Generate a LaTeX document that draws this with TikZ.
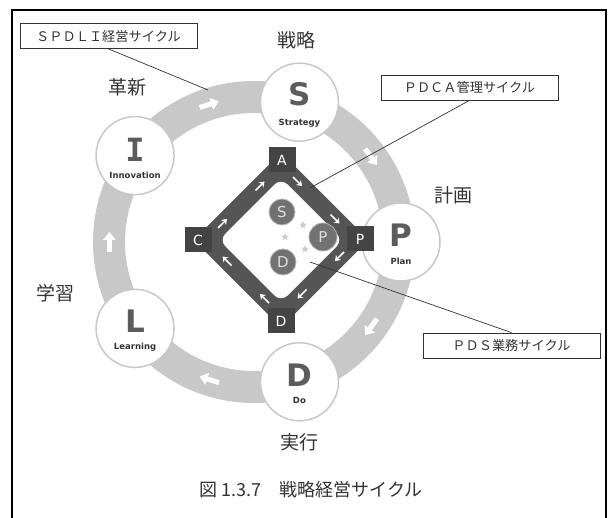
\documentclass[tikz,border=0pt]{standalone}
\usepackage{fontspec}
\usetikzlibrary{arrows.meta,shapes.geometric,calc}
\newfontfamily\jp{Noto Sans CJK JP}
\newfontfamily\vsans{DejaVu Sans}
\newfontfamily\vmono{DejaVu Sans Mono}
\definecolor{ringgray}{HTML}{C8C8C8}
\definecolor{bandgray}{HTML}{555555}
\definecolor{boxgray}{HTML}{444444}
\definecolor{lettergray}{HTML}{5C5C5C}
\definecolor{txtgray}{HTML}{333333}
\definecolor{innergray}{HTML}{727272}
\tikzset{
  bigcirc/.style={circle, minimum size=78pt, inner sep=0pt, draw=ringgray, line width=1.5pt, fill=white},
  bigletter/.style={font=\vsans\bfseries\fontsize{31}{31}\selectfont, text=lettergray, inner sep=0pt},
  monoletter/.style={font=\vmono\bfseries\fontsize{32}{32}\selectfont, text=lettergray, inner sep=0pt},
  sublabel/.style={font=\vsans\bfseries\fontsize{8.5}{9}\selectfont, text=txtgray, inner sep=0pt},
  jplabel/.style={font=\jp\fontsize{19}{19}\selectfont, text=txtgray, inner sep=0pt},
  callout/.style={draw=txtgray, line width=0.8pt, fill=white, minimum width=177pt, minimum height=25pt, inner sep=0pt, font=\jp\fontsize{13.2}{14}\selectfont, text=txtgray},
  leader/.style={draw=txtgray, line width=0.7pt},
  ringarrow/.style={white, line width=5pt, -{Triangle[width=12pt,length=8pt]}},
  pdcabox/.style={fill=boxgray, minimum width=27pt, minimum height=25pt, inner sep=0pt, text=white, font=\vsans\fontsize{14}{14}\selectfont},
  darrow/.style={white, line width=1.6pt, -{Stealth[length=5pt,width=7pt]}},
  smallcirc/.style={circle, fill=innergray, draw=gray!60, line width=0.8pt, inner sep=0pt, text=gray!25, font=\vsans\fontsize{15}{15}\selectfont},
  smallstar/.style={star, star points=5, star point ratio=2.3, fill=gray!40, minimum size=8pt, inner sep=0pt}
}
\begin{document}
\begin{tikzpicture}[x=1pt,y=-1pt]
\useasboundingbox (0,0) rectangle (610,518);
\fill[white] (0,0) rectangle (610,518);
\draw[line width=1.8pt] (12,520) -- (12,10) -- (606,10) -- (606,520);

% outer ring (angles measured clockwise on screen, since y points down)
\begin{scope}[shift={(254,242)}]
  \draw[ringgray, line width=32pt] (0,0) circle[radius=145];
  \foreach \a in {-108,-36,36,108,180} {
    \draw[ringarrow] (\a-4:145) -- (\a+4:145);
  }
  \node[bigcirc] (S) at (-72:147) {};
  \node[bigcirc] (P) at (0:147) {};
  \node[bigcirc] (D) at (72:147) {};
  \node[bigcirc] (L) at (144:147) {};
  \node[bigcirc] (I) at (-144:147) {};
\end{scope}

\node[bigletter] (Sl) at ([yshift=8pt]S.center) {S};
\node[sublabel] (Ss) at ([yshift=-21pt]S.center) {Strategy};
\node[bigletter] (Pl) at ([yshift=7pt]P.center) {P};
\node[sublabel] (Ps) at ([yshift=-19pt]P.center) {Plan};
\node[bigletter] (Dl) at ([yshift=7pt]D.center) {D};
\node[sublabel] (Ds) at ([yshift=-19pt]D.center) {Do};
\node[bigletter] (Ll) at ([yshift=7pt]L.center) {L};
\node[sublabel] (Ls) at ([yshift=-19pt]L.center) {Learning};
\node[monoletter] (Il) at ([yshift=6pt]I.center) {I};
\node[sublabel] (Is) at ([yshift=-20pt]I.center) {Innovation};

% PDCA diamond
\fill[bandgray] (281,152.5) -- (368.5,240) -- (281,327.5) -- (193.5,240) -- cycle;
\fill[white, rounded corners=9pt] (281,178) -- (343,240) -- (281,302) -- (219,240) -- cycle;
\coordinate (vt) at (281,165);
\coordinate (vr) at (356,240);
\coordinate (vb) at (281,315);
\coordinate (vl) at (206,240);
\foreach \p/\q in {vt/vr, vr/vb, vb/vl, vl/vt} {
  \draw[darrow] ($(\p)!0.16!(\q)$) -- ($(\p)!0.28!(\q)$);
  \draw[darrow] ($(\p)!0.66!(\q)$) -- ($(\p)!0.78!(\q)$);
}
\node[pdcabox] (bA) at (282,160) {A};
\node[pdcabox] (bP) at (360,239) {P};
\node[pdcabox] (bD) at (281,321) {D};
\node[pdcabox] (bC) at (198,240) {C};

% inner PDS circles
\node[smallcirc, minimum size=26pt] (iS) at (282,212) {S};
\node[smallcirc, minimum size=28pt] (iP) at (323,237) {P};
\node[smallcirc, minimum size=26pt] (iD) at (283,262) {D};
\node[smallstar] (st1) at (303,225) {};
\node[smallstar] (st2) at (285,237) {};
\node[smallstar] (st3) at (305,249) {};

% Japanese labels
\node[jplabel] (jS) at (296,40) {戦略};
\node[jplabel] (jI) at (127,87) {革新};
\node[jplabel] (jP) at (453,195) {計画};
\node[jplabel] (jL) at (55,293) {学習};
\node[jplabel] (jD) at (299,442) {実行};

% callouts
\node[callout] (c1) at (108.5,36) {ＳＰＤＬＩ経営サイクル};
\node[callout] (c2) at (469.5,87.5) {ＰＤＣＡ管理サイクル};
\node[callout] (c3) at (511.5,345.5) {ＰＤＳ業務サイクル};
\coordinate (e1) at (208,90);
\coordinate (e2) at (310,188);
\coordinate (e3) at (310,262);
\draw[leader] (c1.south) -- (e1);
\draw[leader] (c2.south) -- (e2);
\draw[leader] (c3.north) -- (e3);

% caption
\node[font=\jp\fontsize{18}{18}\selectfont, text=txtgray, inner sep=0pt] (cap) at (311,490) {図 1.3.7　戦略経営サイクル};
\end{tikzpicture}
\end{document}
